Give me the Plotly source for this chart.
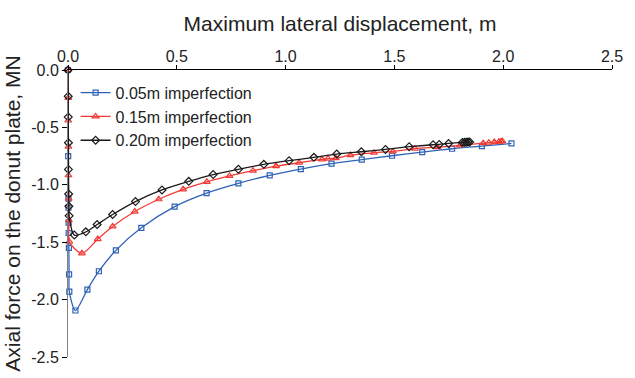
import plotly.graph_objects as go

# ---- data ----
blue_x = [0, 0.001, 0.002, 0.002, 0.003, 0.003, 0.004, 0.005, 0.006, 0.034, 0.089, 0.142, 0.22, 0.337,
          0.49, 0.637, 0.783, 0.927, 1.07, 1.211, 1.35, 1.489, 1.628, 1.765, 1.902, 2.038]
blue_y = [0, -0.75, -1.12, -1.20, -1.33, -1.42, -1.55, -1.78, -1.93, -2.095, -1.913, -1.753, -1.571, -1.375,
          -1.19, -1.072, -0.987, -0.918, -0.863, -0.816, -0.781, -0.747, -0.715, -0.686, -0.663, -0.640]

red_x = [0, 0.001, 0.001, 0.002, 0.002, 0.003, 0.004, 0.006, 0.064, 0.137, 0.205, 0.307, 0.417, 0.529,
         0.638, 0.742, 0.850, 0.956, 1.062, 1.167, 1.195, 1.231, 1.298, 1.406, 1.493, 1.594, 1.699, 1.801,
         1.908, 1.934, 1.959, 1.98, 1.99, 1.996]
red_y = [0, -0.243, -0.44, -0.668, -0.917, -1.12, -1.308, -1.496, -1.597, -1.473, -1.363, -1.233, -1.126,
         -1.039, -0.974, -0.923, -0.877, -0.837, -0.808, -0.779, -0.773, -0.768, -0.741, -0.721, -0.709,
         -0.686, -0.672, -0.657, -0.637, -0.633, -0.628, -0.625, -0.622, -0.620]

black_x = [0, 0.001, 0.001, 0.002, 0.002, 0.003, 0.004, 0.005, 0.029, 0.082, 0.134, 0.205, 0.31, 0.432,
           0.555, 0.667, 0.783, 0.9, 1.016, 1.13, 1.235, 1.348, 1.459, 1.568, 1.678, 1.706, 1.749, 1.812,
           1.822, 1.83, 1.838, 1.846]
black_y = [0, -0.229, -0.41, -0.634, -0.866, -1.08, -1.187, -1.27, -1.438, -1.41, -1.346, -1.259, -1.146,
           -1.045, -0.970, -0.911, -0.865, -0.822, -0.79, -0.761, -0.732, -0.712, -0.692, -0.668, -0.651,
           -0.648, -0.640, -0.631, -0.630, -0.629, -0.628, -0.627]

series_names = ["0.05m imperfection", "0.15m imperfection", "0.20m imperfection"]

x_tickvals = [0, 0.5, 1.0, 1.5, 2.0, 2.5]
x_ticktext = ["0.0", "0.5", "1.0", "1.5", "2.0", "2.5"]
y_tickvals = [0, -0.5, -1.0, -1.5, -2.0, -2.5]
y_ticktext = ["0.0", "-0.5", "-1.0", "-1.5", "-2.0", "-2.5"]

FONT = "Liberation Sans, Arial, sans-serif"
TXT = "#222222"

fig = go.Figure()
styles = [
    (blue_x, blue_y, "#2e63b8", "square-open", 5),
    (red_x, red_y, "#f23a35", "triangle-up-open", 6),
    (black_x, black_y, "#1a1a1a", "diamond-open", 6),
]
for i, ((xs, ys, col, sym, sz), name) in enumerate(zip(styles, series_names)):
    fig.add_trace(go.Scatter(
        x=xs, y=ys, name=name, mode="lines+markers",
        line=dict(color=col, width=1.3, shape="spline", smoothing=0.8),
        marker=dict(symbol=sym, size=sz, color=col, line=dict(width=1.2, color=col)),
        cliponaxis=False,
    ))

fig.update_layout(
    width=635, height=378,
    margin=dict(l=68, r=12, t=70, b=20),
    paper_bgcolor="white", plot_bgcolor="white",
    font=dict(family=FONT, size=16, color=TXT),
    showlegend=True,
    legend=dict(x=0.014, y=0.98, xanchor="left", yanchor="top",
                bgcolor="rgba(0,0,0,0)", font=dict(size=16, color=TXT),
                itemwidth=30, tracegroupgap=0),
    xaxis=dict(
        side="top", range=[0, 2.5], tickvals=x_tickvals, ticktext=x_ticktext,
        showgrid=False, zeroline=False, showline=True, linecolor="#000000", linewidth=1,
        ticks="outside", ticklen=4, tickcolor="#000000", ticklabelstandoff=-3,
        tickfont=dict(size=16, color=TXT),
        title=dict(text="Maximum lateral displacement, m", font=dict(size=21, color=TXT), standoff=10),
    ),
    yaxis=dict(
        range=[-2.5, 0], tickvals=y_tickvals, ticktext=y_ticktext,
        showgrid=False, zeroline=False, showline=True, linecolor="#808080", linewidth=1,
        ticks="outside", ticklen=5, tickcolor="#000000",
        tickfont=dict(size=16, color=TXT),
        title=dict(text="Axial force on the donut plate, MN", font=dict(size=21, color=TXT), standoff=4),
    ),
)

fig.write_html("out.html")
